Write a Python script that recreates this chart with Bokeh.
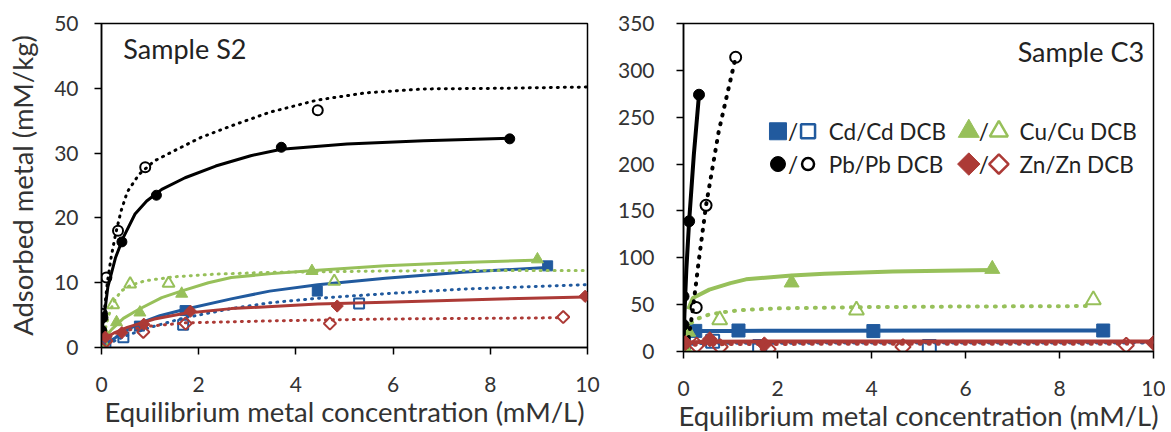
from bokeh.plotting import figure
from bokeh.layouts import row
from bokeh.models import Range1d, SingleIntervalTicker, Label
from bokeh.embed import file_html
from bokeh.resources import INLINE
import math

# ---------------- Sample S2 (left) ----------------
s2_cd_x = [0.04, 0.78, 1.72, 4.44, 9.18]
s2_cd_y = [0.6, 3.3, 5.7, 8.7, 12.6]
s2_cddcb_x = [0.08, 0.45, 1.68, 5.3]
s2_cddcb_y = [0.7, 1.6, 3.5, 6.8]
s2_cu_x = [0.08, 0.31, 0.79, 1.65, 4.33, 8.97]
s2_cu_y = [2.1, 3.9, 5.4, 8.3, 11.8, 13.6]
s2_cudcb_x = [0.02, 0.24, 0.59, 1.38, 4.79]
s2_cudcb_y = [0.8, 6.6, 9.8, 9.9, 10.2]
s2_pb_x = [0.0, 0.03, 0.42, 1.13, 3.7, 8.4]
s2_pb_y = [2.7, 4.6, 16.3, 23.5, 30.9, 32.2]
s2_pbdcb_x = [0.01, 0.1, 0.34, 0.9, 4.45]
s2_pbdcb_y = [5.2, 10.8, 18.0, 27.8, 36.6]
s2_zn_x = [0.08, 0.42, 0.87, 1.83, 4.85, 9.95]
s2_zn_y = [1.6, 2.3, 3.6, 5.6, 6.4, 7.9]
s2_zndcb_x = [0.1, 0.86, 1.73, 4.7, 9.5]
s2_zndcb_y = [1.0, 2.4, 3.7, 3.7, 4.7]

# fitted curves
s2_cd_fit_x = [0, 0.1, 0.3, 0.55, 0.8, 1.2, 1.72, 2.67, 3.46, 4.45, 5.84, 7.42, 9.25]
s2_cd_fit_y = [0, 0.6, 1.6, 2.8, 3.8, 4.9, 5.9, 7.5, 8.7, 9.7, 10.7, 11.6, 12.4]
s2_cddcb_fit_x = [0, 0.2, 0.5, 1.0, 1.72, 2.67, 3.46, 4.45, 5.84, 7.42, 10]
s2_cddcb_fit_y = [0, 0.8, 1.8, 3.1, 4.6, 6.0, 6.9, 7.6, 8.3, 9.0, 9.7]
s2_cu_fit_x = [0.1, 0.21, 0.45, 0.77, 1.24, 1.64, 2.2, 2.67, 3.5, 4.37, 5.84, 7.42, 9.05]
s2_cu_fit_y = [1.8, 2.8, 4.5, 5.9, 7.7, 8.7, 10.0, 10.8, 11.4, 11.9, 12.6, 13.1, 13.5]
s2_cudcb_fit_x = [0.05, 0.15, 0.25, 0.4, 0.6, 0.9, 1.48, 2.3, 3.46, 5.84, 8, 10]
s2_cudcb_fit_y = [2.0, 5.0, 7.0, 8.7, 9.6, 10.3, 10.9, 11.3, 11.6, 11.8, 11.9, 11.9]
s2_pb_fit_x = [0, 0.05, 0.13, 0.29, 0.45, 0.69, 0.93, 1.24, 1.72, 2.35, 3.07, 3.7, 5.05, 6.63, 8.4]
s2_pb_fit_y = [2.6, 4.5, 9.3, 13.9, 17.0, 20.6, 22.6, 24.4, 26.2, 28.0, 29.6, 30.6, 31.4, 31.9, 32.3]
s2_pbdcb_fit_x = [0, 0.05, 0.12, 0.2, 0.29, 0.4, 0.53, 0.77, 1.09, 1.48, 2.04, 2.67, 3.46, 4.45, 5.44, 6.63, 8.2, 10]
s2_pbdcb_fit_y = [2, 5, 10, 14, 17.5, 21, 24, 26.7, 28.8, 30.3, 32.4, 34.2, 36.3, 38.2, 39.3, 39.9, 40.0, 40.2]
s2_zn_fit_x = [0.05, 0.25, 0.53, 1.09, 1.72, 2.67, 4.45, 5.84, 8.2, 9.95]
s2_zn_fit_y = [1.4, 2.2, 3.1, 4.4, 5.3, 6.0, 6.7, 7.0, 7.5, 7.8]
s2_zndcb_fit_x = [0.05, 0.3, 0.85, 1.72, 3.46, 5.84, 8, 9.5]
s2_zndcb_fit_y = [1.2, 2.2, 3.2, 3.8, 4.1, 4.4, 4.5, 4.6]

# ---------------- Sample C3 (right) ----------------
c3_cd_x = [0.0, 0.25, 1.17, 4.04, 8.93]
c3_cd_y = [8, 22, 22.4, 21.8, 22.4]
c3_cddcb_x = [0.0, 0.62, 1.62, 5.23]
c3_cddcb_y = [7, 11, 5.3, 5.3]
c3_cu_x = [0.02, 0.1, 2.3, 6.57]
c3_cu_y = [2, 21, 73.5, 88]
c3_cudcb_x = [0.03, 0.77, 3.68, 8.72]
c3_cudcb_y = [2, 33.7, 44, 55]
c3_pb_x = [0.0, 0.0, 0.0, 0.12, 0.33]
c3_pb_y = [10, 28.5, 58.8, 139, 274]
c3_pbdcb_x = [0.27, 0.48, 1.11]
c3_pbdcb_y = [47, 156, 314]
c3_zn_x = [0.04, 0.56, 1.72, 10.0]
c3_zn_y = [9, 13, 7.5, 9]
c3_zndcb_x = [0.28, 0.78, 1.8, 4.67, 9.42]
c3_zndcb_y = [6.7, 5.0, 2.5, 5.0, 6.7]

c3_cd_fit_x = [0.0, 0.03, 0.1, 0.3, 1, 3, 6, 8.93]
c3_cd_fit_y = [8, 18, 21, 21.8, 22, 22.2, 22.3, 22.4]
c3_cddcb_fit_x = [0.02, 0.1, 0.3, 1, 3, 6, 10]
c3_cddcb_fit_y = [4, 8, 9, 9.3, 9.5, 9.6, 9.7]
c3_cu_fit_x = [0.1, 0.2, 0.55, 1.0, 1.33, 2.3, 3.0, 4.45, 5.5, 6.57]
c3_cu_fit_y = [45, 57, 66, 73, 77, 81, 83, 85.4, 86.2, 87]
c3_cudcb_fit_x = [0.08, 0.15, 0.3, 0.55, 1.0, 1.33, 2.0, 3.68, 6.0, 8.7]
c3_cudcb_fit_y = [22, 30, 35, 39.5, 43, 44.5, 46, 47.3, 48, 48.5]
c3_pb_fit_x = [0.0, 0.02, 0.06, 0.12, 0.22, 0.33]
c3_pb_fit_y = [5, 40, 87, 139, 210, 274]
c3_pbdcb_fit_x = [0.08, 0.2, 0.32, 0.48, 0.75, 1.11]
c3_pbdcb_fit_y = [5, 45, 95, 156, 235, 314]
c3_zn_fit_x = [0.0, 0.05, 0.2, 0.6, 2, 5, 10]
c3_zn_fit_y = [6, 9, 10, 10.5, 10.7, 10.8, 10.8]
c3_zndcb_fit_x = [0.05, 0.3, 1, 3, 6, 9.44]
c3_zndcb_fit_y = [6, 7.5, 8, 8.2, 8.3, 8.3]

legend_labels = ["Cd/Cd DCB", "Cu/Cu DCB", "Pb/Pb DCB", "Zn/Zn DCB"]

BLUE = "#215A9E"
GREEN = "#97C05A"
BLACK = "#000000"
RED = "#AC3A36"
FONT = "Lato"
TXT = "#333333"
ROT = math.pi / 4


def style(p, y_interval):
    p.outline_line_color = "black"
    p.outline_line_width = 1.5
    p.xgrid.visible = False
    p.ygrid.visible = False
    for ax in (p.xaxis[0], p.yaxis[0]):
        ax.axis_line_color = "black"
        ax.axis_line_width = 1.5
        ax.major_tick_line_color = "black"
        ax.major_tick_line_width = 1.5
        ax.major_tick_out = 7
        ax.major_tick_in = 0
        ax.minor_tick_line_color = None
        ax.major_label_text_font = FONT
        ax.major_label_text_font_size = "21px"
        ax.major_label_text_color = TXT
        ax.axis_label_text_font = FONT
        ax.axis_label_text_font_style = "normal"
        ax.axis_label_text_font_size = "27.5px"
        ax.axis_label_text_color = TXT
    p.xaxis[0].ticker = SingleIntervalTicker(interval=2)
    p.yaxis[0].ticker = SingleIntervalTicker(interval=y_interval)
    p.xaxis[0].major_label_standoff = 22
    p.xaxis[0].axis_label_standoff = 0
    p.yaxis[0].major_label_standoff = 16
    p.yaxis[0].axis_label_standoff = 12


def marker_args(marker, size):
    # diamonds drawn as squares rotated by 45 degrees (equal width and height)
    if marker == "diamond":
        return dict(marker="square", size=size * 0.72, angle=ROT)
    return dict(marker=marker, size=size)


def series(p, fx, fy, mx, my, marker, color, size, dashed, open_, lw, dash):
    if dashed:
        p.line(fx, fy, line_color=color, line_width=lw, line_dash=dash, line_cap="round")
    else:
        p.line(fx, fy, line_color=color, line_width=lw)
    if open_:
        p.scatter(mx, my, fill_alpha=0, line_color=color, line_width=2, **marker_args(marker, size))
    else:
        p.scatter(mx, my, fill_color=color, line_color=color, **marker_args(marker, size))


# ---------------- left figure ----------------
p1 = figure(frame_width=486, frame_height=324, min_border_left=101, min_border_right=20,
            min_border_top=23, min_border_bottom=77,
            x_range=Range1d(0, 10), y_range=Range1d(0, 50),
            output_backend="svg", toolbar_location=None,
            x_axis_label="Equilibrium metal concentration (mM/L)",
            y_axis_label="Adsorbed metal (mM/kg)")
style(p1, 10)

D1 = "1 6"
series(p1, s2_cd_fit_x, s2_cd_fit_y, s2_cd_x, s2_cd_y, "square", BLUE, 10, False, False, 3, D1)
series(p1, s2_cddcb_fit_x, s2_cddcb_fit_y, s2_cddcb_x, s2_cddcb_y, "square", BLUE, 10, True, True, 3, D1)
series(p1, s2_cu_fit_x, s2_cu_fit_y, s2_cu_x, s2_cu_y, "triangle", GREEN, 12, False, False, 3, D1)
series(p1, s2_cudcb_fit_x, s2_cudcb_fit_y, s2_cudcb_x, s2_cudcb_y, "triangle", GREEN, 12, True, True, 3, D1)
series(p1, s2_pb_fit_x, s2_pb_fit_y, s2_pb_x, s2_pb_y, "circle", BLACK, 10, False, False, 3, D1)
series(p1, s2_pbdcb_fit_x, s2_pbdcb_fit_y, s2_pbdcb_x, s2_pbdcb_y, "circle", BLACK, 10, True, True, 3, D1)
series(p1, s2_zn_fit_x, s2_zn_fit_y, s2_zn_x, s2_zn_y, "diamond", RED, 12, False, False, 3, D1)
series(p1, s2_zndcb_fit_x, s2_zndcb_fit_y, s2_zndcb_x, s2_zndcb_y, "diamond", RED, 12, True, True, 3, D1)

p1.add_layout(Label(x=0.45, y=46.2, text="Sample S2", text_font=FONT, text_font_size="27px",
                    text_color="#222222", text_baseline="middle", text_align="left"))

# ---------------- right figure ----------------
p2 = figure(frame_width=470, frame_height=328, min_border_left=76, min_border_right=12,
            min_border_top=20, min_border_bottom=76,
            x_range=Range1d(0, 10), y_range=Range1d(0, 350),
            output_backend="svg", toolbar_location=None,
            x_axis_label="Equilibrium metal concentration (mM/L)")
style(p2, 50)
p2.yaxis[0].major_label_standoff = 22

D2 = "1 8"
series(p2, c3_cd_fit_x, c3_cd_fit_y, c3_cd_x, c3_cd_y, "square", BLUE, 13, False, False, 4, D2)
series(p2, c3_cddcb_fit_x, c3_cddcb_fit_y, c3_cddcb_x, c3_cddcb_y, "square", BLUE, 13, True, True, 4, D2)
series(p2, c3_cu_fit_x, c3_cu_fit_y, c3_cu_x, c3_cu_y, "triangle", GREEN, 15, False, False, 4, D2)
series(p2, c3_cudcb_fit_x, c3_cudcb_fit_y, c3_cudcb_x, c3_cudcb_y, "triangle", GREEN, 15, True, True, 4, D2)
series(p2, c3_pb_fit_x, c3_pb_fit_y, c3_pb_x, c3_pb_y, "circle", BLACK, 11, False, False, 4, D2)
series(p2, c3_pbdcb_fit_x, c3_pbdcb_fit_y, c3_pbdcb_x, c3_pbdcb_y, "circle", BLACK, 11, True, True, 4, D2)
series(p2, c3_zn_fit_x, c3_zn_fit_y, c3_zn_x, c3_zn_y, "diamond", RED, 15, False, False, 4, D2)
series(p2, c3_zndcb_fit_x, c3_zndcb_fit_y, c3_zndcb_x, c3_zndcb_y, "diamond", RED, 15, True, True, 4, D2)

p2.add_layout(Label(x=9.8, y=320, text="Sample C3", text_font=FONT, text_font_size="27px",
                    text_color="#222222", text_baseline="middle", text_align="right"))

# custom legend (positions in the C3 panel)
leg_rows = [235, 200]
leg_cols = [2.01, 6.07]
leg_markers = ["square", "triangle", "circle", "diamond"]
leg_colors = [BLUE, GREEN, BLACK, RED]
leg_sizes = [17, 21, 15, 22]
for i, lab in enumerate(legend_labels):
    cx = leg_cols[i % 2]
    cy = leg_rows[i // 2]
    p2.scatter([cx], [cy], fill_color=leg_colors[i], line_color=leg_colors[i],
               **marker_args(leg_markers[i], leg_sizes[i]))
    p2.scatter([cx + 0.64], [cy], fill_color="white", line_color=leg_colors[i], line_width=2.5,
               **marker_args(leg_markers[i], leg_sizes[i] - 3))
    p2.add_layout(Label(x=cx + 0.32, y=cy, text="/", text_font=FONT, text_font_size="22.5px",
                        text_color="#222222", text_baseline="middle", text_align="center"))
    p2.add_layout(Label(x=cx + 1.08, y=cy, text=lab, text_font=FONT, text_font_size="22.5px",
                        text_color="#222222", text_baseline="middle", text_align="left"))

layout = row(p1, p2)
open("out.html", "w").write(file_html(layout, INLINE))
